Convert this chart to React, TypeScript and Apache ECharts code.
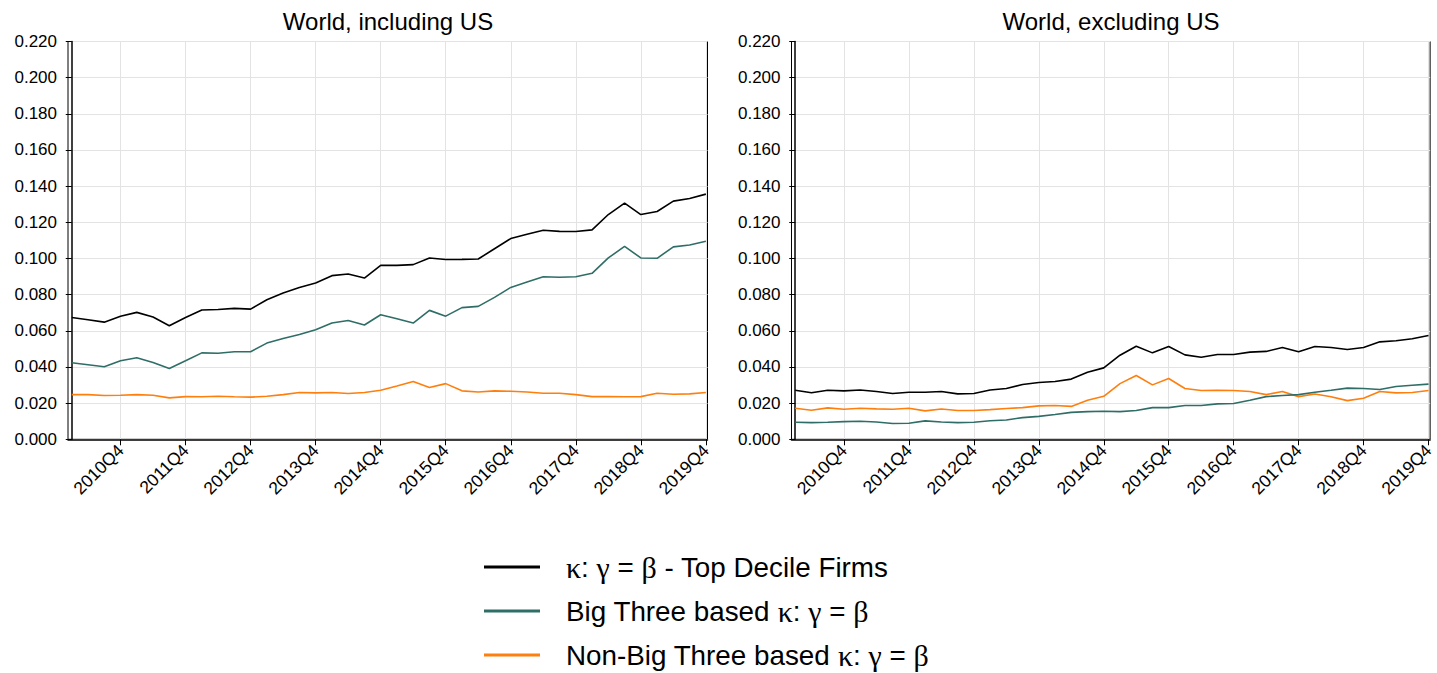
import React, { useEffect, useRef } from "react";
import * as echarts from "echarts";

const years = ["2010", "2011", "2012", "2013", "2014", "2015", "2016", "2017", "2018", "2019"];
const quarters: string[] = [];
years.forEach((y) => ["Q1", "Q2", "Q3", "Q4"].forEach((q) => quarters.push(y + q)));
const tickIdx = [3, 7, 11, 15, 19, 23, 27, 31, 35, 39];

const nameTop = "κ: γ = β - Top Decile Firms";
const nameBig = "Big Three based κ: γ = β";
const nameNon = "Non-Big Three based κ: γ = β";

const incTop = [0.0674, 0.0661, 0.0648, 0.068, 0.0702, 0.0676, 0.0628, 0.0674, 0.0715, 0.0718,
  0.0724, 0.072, 0.0772, 0.0809, 0.084, 0.0864, 0.0905, 0.0914, 0.0892, 0.0962,
  0.0962, 0.0966, 0.1003, 0.0994, 0.0995, 0.0997, 0.1054, 0.111, 0.1134, 0.1156,
  0.115, 0.1149, 0.1158, 0.1243, 0.1306, 0.1243, 0.126, 0.1317, 0.1332, 0.1356];
const incBig = [0.0423, 0.0412, 0.0401, 0.0434, 0.0451, 0.0425, 0.0392, 0.0434, 0.0478, 0.0476,
  0.0484, 0.0484, 0.0532, 0.0558, 0.058, 0.0606, 0.0643, 0.0657, 0.0632, 0.0689,
  0.0667, 0.0643, 0.0713, 0.0681, 0.0728, 0.0735, 0.0785, 0.084, 0.087, 0.0899,
  0.0896, 0.0899, 0.0918, 0.1003, 0.1067, 0.1003, 0.1001, 0.1064, 0.1075, 0.1095];
const incNon = [0.0247, 0.0247, 0.0242, 0.0244, 0.0247, 0.0244, 0.0229, 0.0236, 0.0235, 0.0238,
  0.0235, 0.0233, 0.0238, 0.0247, 0.0259, 0.0257, 0.0259, 0.0253, 0.0259, 0.0271,
  0.0295, 0.032, 0.0286, 0.0308, 0.0268, 0.0262, 0.0268, 0.0266, 0.0262, 0.0255,
  0.0255, 0.0247, 0.0236, 0.0236, 0.0235, 0.0236, 0.0255, 0.0249, 0.0251, 0.0259];

const excTop = [0.0271, 0.0257, 0.0271, 0.0268, 0.0273, 0.0264, 0.0253, 0.026, 0.026, 0.0264,
  0.0251, 0.0253, 0.0273, 0.0281, 0.0303, 0.0314, 0.032, 0.0333, 0.0371, 0.0395,
  0.0465, 0.0515, 0.0478, 0.0513, 0.0467, 0.0454, 0.0469, 0.0469, 0.0482, 0.0486,
  0.0508, 0.0484, 0.0513, 0.0508, 0.0497, 0.0508, 0.0539, 0.0545, 0.0556, 0.0574];
const excBig = [0.0094, 0.0092, 0.0094, 0.0098, 0.01, 0.0096, 0.0087, 0.0089, 0.0102, 0.0096,
  0.0092, 0.0094, 0.0103, 0.0107, 0.012, 0.0127, 0.0137, 0.0149, 0.0153, 0.0155,
  0.0153, 0.0159, 0.0175, 0.0175, 0.0187, 0.0187, 0.0196, 0.0198, 0.0216, 0.0236,
  0.0242, 0.0247, 0.026, 0.0271, 0.0283, 0.0281, 0.0275, 0.0292, 0.0299, 0.0305];
const excNon = [0.0172, 0.0161, 0.0174, 0.0166, 0.0172, 0.0168, 0.0166, 0.0172, 0.0157, 0.0168,
  0.0159, 0.0159, 0.0164, 0.017, 0.0175, 0.0185, 0.0187, 0.0182, 0.0216, 0.0238,
  0.0308, 0.0353, 0.0301, 0.0336, 0.0281, 0.027, 0.0271, 0.027, 0.0264, 0.0247,
  0.0264, 0.0236, 0.0251, 0.0235, 0.0214, 0.0227, 0.0264, 0.0257, 0.0259, 0.027];

const FONT = "'Liberation Sans', Arial, sans-serif";
const SERIF = "'Liberation Serif', 'Times New Roman', serif";
const C_TOP = "#000000";
const C_BIG = "#2f6e66";
const C_NON = "#ff7f0e";

function toPts(arr: number[]) {
  return arr.map((v, i) => [i, v]);
}

function xAxisFor(gridIndex: number) {
  return {
    type: "value",
    gridIndex,
    min: -0.23,
    max: 39.1,
    axisLine: { show: true, onZero: false, lineStyle: { color: "#000", width: 1.5 } },
    axisTick: { show: true, customValues: tickIdx, length: 6, lineStyle: { color: "#000", width: 1 } },
    axisLabel: {
      customValues: tickIdx,
      rotate: 45,
      margin: 8,
      fontSize: 17.5,
      color: "#000",
      fontFamily: FONT,
      formatter: (v: number) => quarters[Math.round(v)],
    },
    splitLine: { show: true, lineStyle: { color: "#e3e3e3", width: 1 } },
  };
}

function yAxisFor(gridIndex: number) {
  return {
    type: "value",
    gridIndex,
    min: 0,
    max: 0.22,
    interval: 0.02,
    axisLine: { show: true, lineStyle: { color: "#000", width: 1.5 } },
    axisTick: { show: true, length: 6, lineStyle: { color: "#000", width: 1 } },
    axisLabel: {
      margin: 11,
      fontSize: 17,
      color: "#000",
      fontFamily: FONT,
      formatter: (v: number) => v.toFixed(3),
    },
    splitLine: { show: true, lineStyle: { color: "#e3e3e3", width: 1 } },
  };
}

function lineSeries(name: string, data: number[], color: string, idx: number) {
  return {
    type: "line",
    name,
    xAxisIndex: idx,
    yAxisIndex: idx,
    data: toPts(data),
    showSymbol: false,
    symbol: "none",
    lineStyle: { color, width: 1.6 },
    itemStyle: { color },
  };
}

function legendFormat(name: string) {
  return name.replace(/[κγβ]/g, (m) => "{g|" + m + "}");
}

export default function App() {
  const ref = useRef<HTMLDivElement>(null);
  useEffect(() => {
    document.body.style.margin = "0";
    if (!ref.current) return;
    const chart = echarts.init(ref.current, undefined, { renderer: "svg" });
    const option: any = {
      animation: false,
      backgroundColor: "#ffffff",
      grid: [
        { left: 68, top: 41.5, width: 639.5, height: 397.8, show: true, borderColor: "#000", borderWidth: 1, backgroundColor: "transparent" },
        { left: 791.5, top: 41.5, width: 639.3, height: 397.8, show: true, borderColor: "#000", borderWidth: 1, backgroundColor: "transparent" },
      ],
      xAxis: [xAxisFor(0), xAxisFor(1)],
      yAxis: [yAxisFor(0), yAxisFor(1)],
      graphic: [
        { type: "text", x: 388, y: 21, style: { text: "World, including US", fontSize: 24, fontFamily: FONT, fill: "#000", textAlign: "center", textVerticalAlign: "middle" } },
        { type: "text", x: 1111, y: 21, style: { text: "World, excluding US", fontSize: 24, fontFamily: FONT, fill: "#000", textAlign: "center", textVerticalAlign: "middle" } },
      ],
      legend: {
        orient: "vertical",
        left: 484,
        top: 551,
        height: 140,
        padding: 0,
        itemWidth: 56,
        itemHeight: 3,
        itemGap: 12,
        icon: "rect",
        data: [nameTop, nameBig, nameNon],
        formatter: legendFormat,
        textStyle: {
          fontSize: 27.8,
          lineHeight: 32,
          color: "#000",
          fontFamily: FONT,
          padding: [0, 0, 0, 21],
          rich: {
            g: { fontSize: 30, fontFamily: SERIF, color: "#000", lineHeight: 32 },
          },
        },
      },
      series: [
        lineSeries(nameNon, incNon, C_NON, 0),
        lineSeries(nameBig, incBig, C_BIG, 0),
        lineSeries(nameTop, incTop, C_TOP, 0),
        lineSeries(nameNon, excNon, C_NON, 1),
        lineSeries(nameBig, excBig, C_BIG, 1),
        lineSeries(nameTop, excTop, C_TOP, 1),
      ],
    };
    chart.setOption(option);
    return () => chart.dispose();
  }, []);
  return <div ref={ref} style={{ width: 1437, height: 673 }} />;
}
